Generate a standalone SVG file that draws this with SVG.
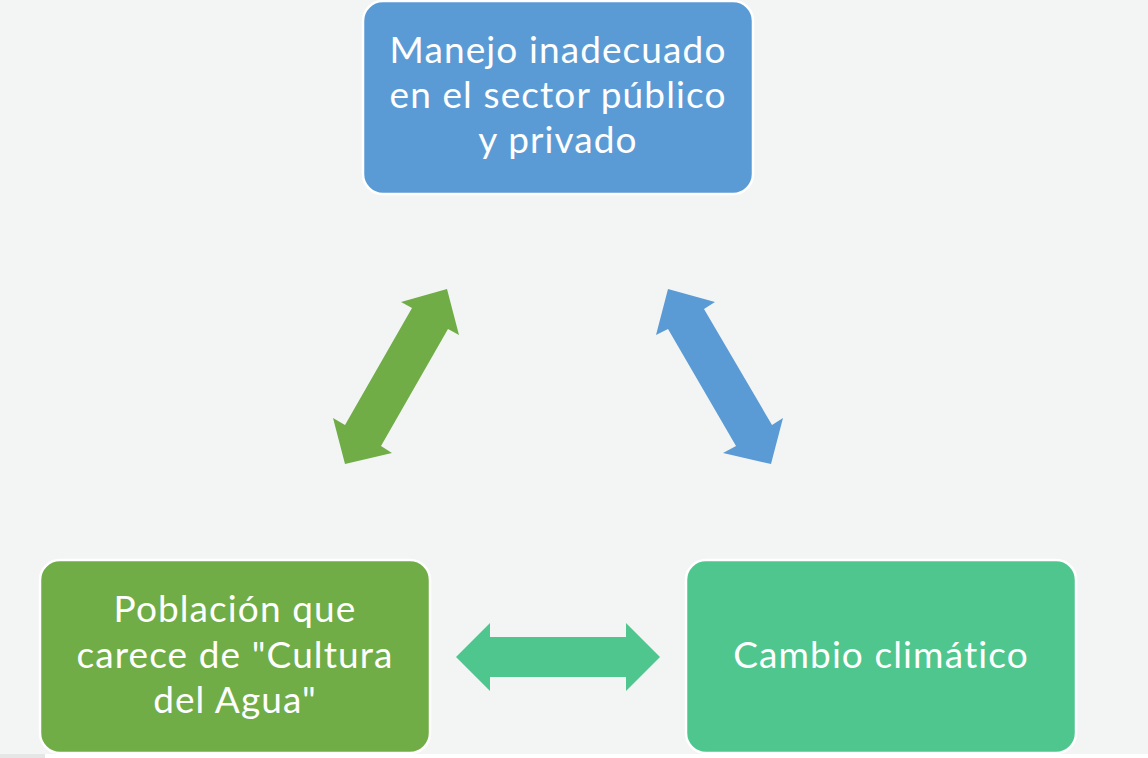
<svg xmlns="http://www.w3.org/2000/svg" width="1148" height="758" viewBox="0 0 1148 758">
<style>
.box{stroke:#ffffff;stroke-width:2.5}
.t{font-family:Lato,"Open Sans",sans-serif;font-size:37px;letter-spacing:1.1px;fill:#ffffff;text-anchor:middle}
</style>
<rect x="0" y="0" width="1148" height="758" fill="#f3f5f5"/>
<rect x="45" y="754" width="1103" height="4" fill="#ffffff"/>
<rect x="0" y="754" width="45" height="4" fill="#e6e6e6"/>
<g id="connectors">
<polygon fill="#70ad47" points="447,289 459,335 448,329 381,446 392,453 345,464 333,418 345,425 412,308 401,302"/>
<polygon fill="#5b9bd5" points="668,289 715,302 704,309 772,425 783,418 771,464 723,453 736,446 668,329 656,335"/>
<polygon fill="#4fc68e" points="456,657 490,623 490,637 626,637 626,623 660,657 626,691 626,677 490,677 490,691"/>
</g>
<g id="node-top">
<rect class="box" x="363" y="1" width="390" height="193" rx="20" fill="#5b9bd5"/>
<text class="t"><tspan x="558" y="63">Manejo inadecuado</tspan><tspan x="558" y="108">en el sector público</tspan><tspan x="558" y="153">y privado</tspan></text>
</g>
<g id="node-left">
<rect class="box" x="40" y="560" width="390" height="193" rx="20" fill="#70ad47"/>
<text class="t"><tspan x="235" y="622">Población que</tspan><tspan x="235" y="668">carece de "Cultura</tspan><tspan x="235" y="713">del Agua"</tspan></text>
</g>
<g id="node-right">
<rect class="box" x="686" y="560" width="390" height="193" rx="20" fill="#4fc68e"/>
<text class="t" x="881" y="668">Cambio climático</text>
</g>
</svg>
